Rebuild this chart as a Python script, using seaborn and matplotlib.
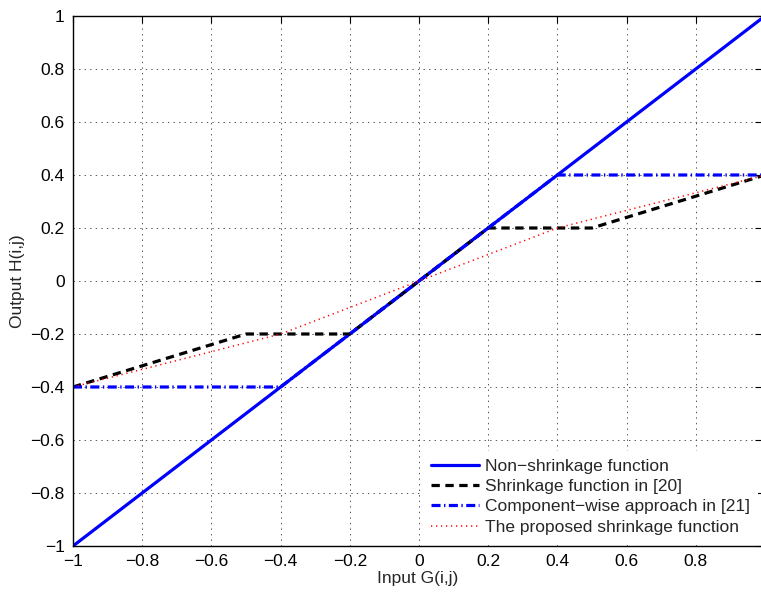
import numpy as np
import pandas as pd
import matplotlib
matplotlib.use("Agg")
import matplotlib.pyplot as plt
import seaborn as sns

# ---- data ----
x_non = [-1.0, 0.99]
y_non = [-1.0, 0.99]

x_s20 = [-1.0, -0.5, -0.2, 0.2, 0.5, 0.99]
y_s20 = [-0.4, -0.2, -0.2, 0.2, 0.2, 0.396]

x_cw = [-1.0, -0.4, 0.4, 0.99]
y_cw = [-0.4, -0.4, 0.4, 0.4]

x_prop = [-1.0, -0.4, 0.0, 0.4, 0.99]
y_prop = [-0.4, -0.2, 0.0, 0.2, 0.396]

labels = ["Non\u2212shrinkage function",
          "Shrinkage function in [20]",
          "Component\u2212wise approach in [21]",
          "The proposed shrinkage function"]

xticks = [-1, -0.8, -0.6, -0.4, -0.2, 0, 0.2, 0.4, 0.6, 0.8]
yticks = [-1, -0.8, -0.6, -0.4, -0.2, 0, 0.2, 0.4, 0.6, 0.8, 1]

sns.set_style("white")
plt.rcParams['font.family'] = ['Liberation Sans', 'DejaVu Sans']
plt.rcParams['axes.unicode_minus'] = True
plt.rcParams['lines.scale_dashes'] = False

W, H = 761, 593
fig = plt.figure(figsize=(W / 100, H / 100), dpi=100)
left, right, top, bottom = 73, 761.5, 16, 546
ax = fig.add_axes([left / W, (H - bottom) / H, (right - left) / W, (bottom - top) / H])

series = [
    (x_non, y_non, labels[0], "#0000ff", "-", 2.3),
    (x_s20, y_s20, labels[1], "black", (0, (6.0, 4.0)), 2.3),
    (x_cw, y_cw, labels[2], "#0000ff", (0, (6.5, 2.5, 1.0, 2.5)), 2.3),
    (x_prop, y_prop, labels[3], "#ff0000", (0, (0.9, 2.7)), 1.1),
]
for xs, ys, lab, col, ls, lw in series:
    df = pd.DataFrame({"x": xs, "y": ys})
    sns.lineplot(data=df, x="x", y="y", ax=ax, color=col, linestyle=ls,
                 linewidth=lw, label=lab, sort=False, estimator=None)

ax.set_xlim(-1, 0.99)
ax.set_ylim(-1, 1)
ax.set_xticks(xticks)
ax.set_yticks(yticks)
ax.set_xticklabels([("%g" % t).replace("-", "\u2212") for t in xticks])
ax.set_yticklabels([("%g" % t).replace("-", "\u2212") for t in yticks])
ax.grid(True, color="#555555", linestyle=(0, (1, 3)), linewidth=0.7)
ax.tick_params(direction="in", length=5, width=0.8, top=True, right=True,
               labelsize=12.5, colors="black", pad=6)
for s in ax.spines.values():
    s.set_color("black")
    s.set_linewidth(1.0)
ax.set_xlabel("Input G(i,j)", fontsize=12.5, labelpad=1)
ax.set_ylabel("Output H(i,j)", fontsize=12.5, labelpad=4)

leg = ax.legend(loc="lower right", fontsize=12.5, handlelength=2.76,
                frameon=True, fancybox=False, framealpha=1, edgecolor="white",
                borderaxespad=0.2, borderpad=0.45, labelspacing=0.3,
                handletextpad=0.35)
leg.get_frame().set_linewidth(0)

fig.savefig("out.png", dpi=100)
